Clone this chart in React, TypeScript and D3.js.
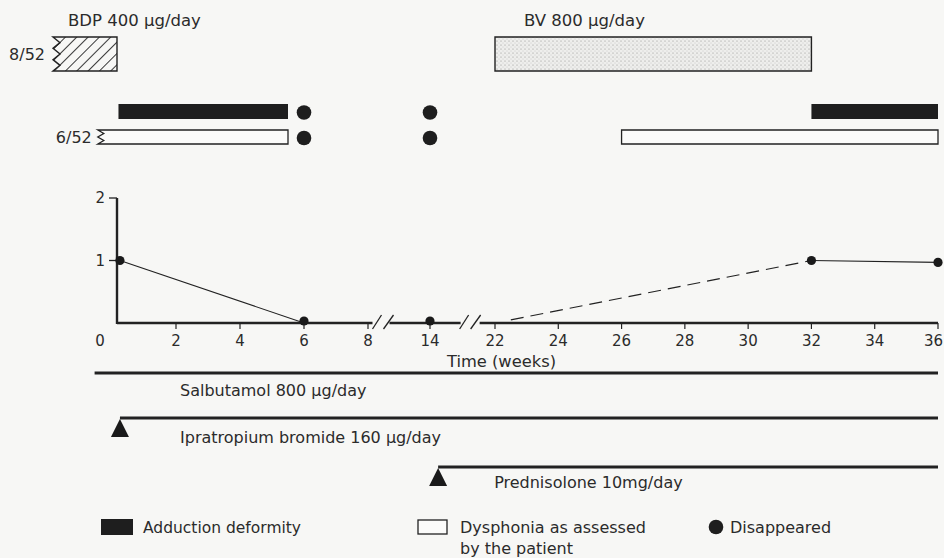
import React from "react";
import * as d3 from "d3";

// ---------- data ----------
const xTicks = [0, 2, 4, 6, 8, 14, 22, 24, 26, 28, 30, 32, 34, 36];
const yTicks = [1, 2];
const scoreSolidA = [
  { w: 0.1, v: 1 },
  { w: 6, v: 0 },
];
const scoreDashed = [
  { w: 22.5, v: 0.05 },
  { w: 32, v: 1 },
];
const scoreSolidB = [
  { w: 32, v: 1 },
  { w: 36, v: 0.97 },
];
const scoreDots = [
  { w: 0.1, v: 1 },
  { w: 6, v: 0 },
  { w: 14, v: 0 },
  { w: 32, v: 1 },
  { w: 36, v: 0.97 },
];
const axisBreaks = [9.5, 19];

// top symptom bars: [start week, end week]
const adductionBars = [
  { start: 0.05, end: 5.5 },
  { start: 32, end: 36 },
];
const dysphoniaBars = [
  { start: -0.6, end: 5.5, broken: true },
  { start: 26, end: 36, broken: false },
];
const disappearedWeeks = [6, 14];

// inhaled steroid periods
const steroids = [
  { label: "BDP 400 \u03bcg/day", start: -2.0, end: 0, kind: "hatch", note: "8/52" },
  { label: "BV 800 \u03bcg/day", start: 22, end: 32, kind: "stipple", note: "" },
];

// other treatments
const treatments = [
  { label: "Salbutamol 800 \u03bcg/day", start: -0.7, end: 36, triangle: false },
  { label: "Ipratropium bromide 160 \u03bcg/day", start: 0.1, end: 36, triangle: true },
  { label: "Prednisolone 10mg/day", start: 15, end: 36, triangle: true },
];

// ---------- layout ----------
const W = 944;
const H = 558;
const FONT = "'DejaVu Sans', sans-serif";
const INK = "#222";
const TXT = "#2b2b2b";

const x = d3
  .scaleLinear()
  .domain([-2, 0, 2, 8, 14, 22, 36])
  .range([53, 117, 176, 368, 430, 495, 938]);
const y = d3.scaleLinear().domain([0, 2]).range([323, 198]);

const rowAdd = { y0: 104, h: 15 };
const rowDys = { y0: 130, h: 14 };
const steroidRow = { y0: 37, h: 34 };
const treatY = [373, 418, 467];

function boxPath(x0: number, x1: number, y0: number, h: number, broken: boolean, teeth: number, amp: number) {
  if (!broken) {
    return `M${x0},${y0}H${x1}V${y0 + h}H${x0}Z`;
  }
  const step = h / (teeth * 2);
  let d = `M${x1},${y0}H${x0}`;
  for (let i = 1; i <= teeth * 2; i++) {
    const px = i % 2 === 0 ? x0 : x0 + amp;
    d += `L${px},${y0 + i * step}`;
  }
  d += `H${x1}Z`;
  return d;
}

export default function App() {
  const lineGen = d3
    .line<{ w: number; v: number }>()
    .x((d) => x(d.w))
    .y((d) => y(d.v));

  const axisY = y(0);
  const gaps = axisBreaks.map((b) => x(b));
  const segs = [
    [x(0), gaps[0] - 11],
    [gaps[0] + 6, gaps[1] - 10],
    [gaps[1] + 9, x(36)],
  ];

  return (
    <svg
      width={W}
      height={H}
      style={{ position: "absolute", left: 0, top: 0, background: "#f7f7f5" }}
      fontFamily={FONT}
    >
      <defs>
        <pattern id="hatch" width="8" height="8" patternUnits="userSpaceOnUse" patternTransform="rotate(45)">
          <line x1="0" y1="0" x2="0" y2="8" stroke={INK} strokeWidth="1.8" />
        </pattern>
        <pattern id="stipple" width="4" height="4" patternUnits="userSpaceOnUse">
          <rect width="4" height="4" fill="#eeeeec" />
          <circle cx="1" cy="1" r="0.55" fill="#8a8a8a" />
          <circle cx="3" cy="3" r="0.45" fill="#a8a8a8" />
        </pattern>
      </defs>
      <rect width={W} height={H} fill="#f7f7f5" />

      {/* steroid periods */}
      {steroids.map((s, i) => {
        const x0 = x(s.start);
        const x1 = x(s.end);
        const broken = s.kind === "hatch";
        const d = boxPath(x0, x1, steroidRow.y0, steroidRow.h, broken, 3, 7);
        return (
          <g key={"st" + i}>
            <path
              d={d}
              fill={s.kind === "hatch" ? "url(#hatch)" : "url(#stipple)"}
              stroke={INK}
              strokeWidth={1.4}
            />
            <text x={s.kind === "hatch" ? x0 + 15 : x0 + 29} y={26} fontSize={16.5} fill={TXT}>
              {s.label}
            </text>
            {s.note && (
              <text x={x0 - 8} y={steroidRow.y0 + steroidRow.h / 2 + 6} fontSize={16} fill={TXT} textAnchor="end">
                {s.note}
              </text>
            )}
          </g>
        );
      })}

      {/* adduction bars */}
      {adductionBars.map((b, i) => (
        <rect
          key={"ad" + i}
          x={x(b.start)}
          y={rowAdd.y0}
          width={x(b.end) - x(b.start)}
          height={rowAdd.h}
          fill="#1e1e1e"
        />
      ))}
      {/* dysphonia bars */}
      {dysphoniaBars.map((b, i) => {
        const x0 = x(b.start);
        const x1 = x(b.end);
        return (
          <g key={"dy" + i}>
            <path
              d={boxPath(x0, x1, rowDys.y0, rowDys.h, b.broken, 2, 6)}
              fill="#fbfbfa"
              stroke={INK}
              strokeWidth={1.3}
            />
            {b.broken && (
              <text x={x0 - 6} y={rowDys.y0 + rowDys.h / 2 + 6} fontSize={16} fill={TXT} textAnchor="end">
                6/52
              </text>
            )}
          </g>
        );
      })}
      {/* disappeared markers */}
      {disappearedWeeks.map((w, i) => (
        <g key={"dis" + i}>
          <circle cx={x(w)} cy={rowAdd.y0 + rowAdd.h / 2 + 1} r={7.3} fill="#1e1e1e" />
          <circle cx={x(w)} cy={rowDys.y0 + rowDys.h / 2 + 1} r={7.3} fill="#1e1e1e" />
        </g>
      ))}

      {/* y axis */}
      <line x1={x(0)} x2={x(0)} y1={y(2)} y2={axisY + 1} stroke={INK} strokeWidth={2.4} />
      {yTicks.map((t) => (
        <g key={"yt" + t}>
          <line x1={x(0) - 8} x2={x(0)} y1={y(t)} y2={y(t)} stroke={INK} strokeWidth={1.3} />
          <text x={x(0) - 12} y={y(t) + 5} fontSize={15} fill={TXT} textAnchor="end">
            {t}
          </text>
        </g>
      ))}

      {/* x axis segments with breaks */}
      {segs.map((s, i) => (
        <line key={"seg" + i} x1={s[0]} x2={s[1]} y1={axisY} y2={axisY} stroke={INK} strokeWidth={2.4} />
      ))}
      {gaps.map((g, i) => (
        <g key={"br" + i} stroke={INK} strokeWidth={1.3}>
          <line x1={g - 11} y1={axisY + 6} x2={g - 2} y2={axisY - 8} />
          <line x1={g + 0} y1={axisY + 6} x2={g + 10} y2={axisY - 8} />
        </g>
      ))}
      {xTicks.map((t) => (
        <g key={"xt" + t}>
          {t !== 0 && <line x1={x(t)} x2={x(t)} y1={axisY} y2={axisY + 6} stroke={INK} strokeWidth={1.2} />}
          <text
            x={t === 0 ? x(t) - 17 : t === 36 ? x(t) + 5 : x(t)}
            y={346}
            fontSize={15}
            fill={TXT}
            textAnchor={t === 36 ? "end" : "middle"}
          >
            {t}
          </text>
        </g>
      ))}
      <text x={447} y={367} fontSize={16.3} fill={TXT}>
        Time (weeks)
      </text>

      {/* score lines */}
      <path d={lineGen(scoreSolidA) || ""} fill="none" stroke={INK} strokeWidth={1.1} />
      <path d={lineGen(scoreDashed) || ""} fill="none" stroke={INK} strokeWidth={1.2} strokeDasharray="13 7" />
      <path d={lineGen(scoreSolidB) || ""} fill="none" stroke={INK} strokeWidth={1.1} />
      {scoreDots.map((p, i) => (
        <circle key={"pt" + i} cx={x(p.w)} cy={y(p.v) - (p.v === 0 ? 2 : 0)} r={4.6} fill="#1a1a1a" />
      ))}

      {/* treatments */}
      {treatments.map((t, i) => {
        const ly = treatY[i];
        const x0 = x(t.start);
        return (
          <g key={"tr" + i}>
            <line x1={x0} x2={x(t.end)} y1={ly} y2={ly} stroke={INK} strokeWidth={3} />
            {t.triangle && (
              <path d={`M${x0},${ly + 1}L${x0 + 9},${ly + 19}L${x0 - 9},${ly + 19}Z`} fill="#1a1a1a" />
            )}
            <text x={i === 2 ? x0 + 56 : x(0) + 63} y={ly + (i === 2 ? 21 : i === 1 ? 25 : 23)} fontSize={16} fill={TXT}>
              {t.label}
            </text>
          </g>
        );
      })}

      {/* legend */}
      <rect x={101} y={519} width={32} height={16} fill="#1e1e1e" />
      <text x={143} y={533} fontSize={15.5} fill={TXT}>
        Adduction deformity
      </text>
      <rect x={418} y={520} width={29} height={14} fill="#fbfbfa" stroke={INK} strokeWidth={1.3} />
      <text x={460} y={533} fontSize={16} fill={TXT}>
        Dysphonia as assessed
      </text>
      <text x={460} y={554} fontSize={16} fill={TXT}>
        by the patient
      </text>
      <circle cx={716} cy={527} r={7.3} fill="#1e1e1e" />
      <text x={730} y={533} fontSize={16} fill={TXT}>
        Disappeared
      </text>
    </svg>
  );
}
